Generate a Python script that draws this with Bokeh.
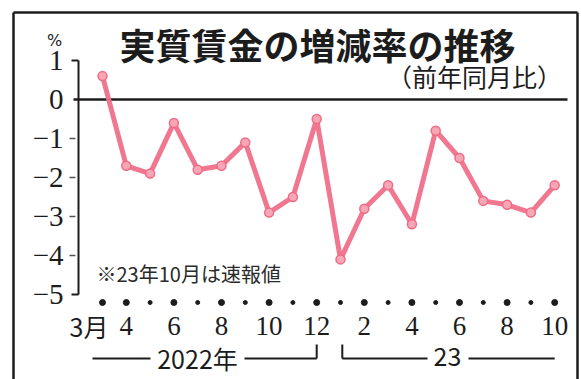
from bokeh.plotting import figure
from bokeh.models import Range1d, ColumnDataSource
from bokeh.core.properties import value
from bokeh.embed import file_html
from bokeh.resources import INLINE

# ---- data ----
months = ["2022-03", "2022-04", "2022-05", "2022-06", "2022-07", "2022-08", "2022-09",
          "2022-10", "2022-11", "2022-12", "2023-01", "2023-02", "2023-03", "2023-04",
          "2023-05", "2023-06", "2023-07", "2023-08", "2023-09", "2023-10"]
wage_change = [0.6, -1.7, -1.9, -0.6, -1.8, -1.7, -1.1, -2.9, -2.5, -0.5,
               -4.1, -2.8, -2.2, -3.2, -0.8, -1.5, -2.6, -2.7, -2.9, -2.2]
x_tick_labels = ["3月", "4", "", "6", "", "8", "", "10", "", "12",
                 "", "2", "", "4", "", "6", "", "8", "", "10"]
y_ticks = [1, 0, -1, -2, -3, -4, -5]
y_tick_labels = ["1", "0", "−1", "−2", "−3", "−4", "−5"]
title = "実質賃金の増減率の推移"
subtitle = "（前年同月比）"
unit_label = "%"
note = "※23年10月は速報値"
year_labels = ["2022年", "23"]

# ---- pixel geometry of the panel (canvas 581x379) ----
W, H = 581, 379
X0, DX = 102.0, 23.8     # pixel x of first month, pixels per month
Y0, DY = 99.0, 39.0      # pixel y of value 0, pixels per 1 %

def px(xp):
    return (xp - X0) / DX

def py(yp):
    return (Y0 - yp) / DY

xs = list(range(len(months)))

p = figure(width=W, height=H, output_backend="svg", toolbar_location=None,
           x_range=Range1d(px(0), px(W)), y_range=Range1d(py(H), py(0)),
           min_border=0, min_border_left=0, min_border_right=0,
           min_border_top=0, min_border_bottom=0)
p.axis.visible = False
p.grid.visible = False
p.outline_line_color = None
p.background_fill_color = "white"
p.border_fill_color = "white"

INK = "#1c1c1c"
NARROW = value("Liberation Sans Narrow")
CJK = value("Noto Sans CJK JP")

# outer frame
p.segment(x0=[px(13), px(13), px(577)], y0=[py(12), py(12), py(12)],
          x1=[px(577), px(13), px(577)], y1=[py(12), py(H + 5), py(H + 5)],
          line_color=INK, line_width=2.5)

# title / subtitle
p.text(x=[px(317)], y=[py(43)], text=[title], text_font=CJK, text_font_style="bold",
       text_font_size="36px", text_align="center", text_baseline="middle", text_color=INK)
p.text(x=[px(474)], y=[py(75)], text=[subtitle], text_font=CJK,
       text_font_size="25px", text_align="center", text_baseline="middle", text_color=INK)

# y axis bracket + ticks
yt_top, yt_bot = max(y_ticks), min(y_ticks)
p.segment(x0=[px(78)], y0=[yt_top], x1=[px(78)], y1=[yt_bot], line_color=INK, line_width=2)
p.segment(x0=[px(71), px(71)], y0=[yt_top, yt_bot], x1=[px(78), px(78)], y1=[yt_top, yt_bot],
          line_color=INK, line_width=2)
inner = [v for v in y_ticks if v not in (yt_top, yt_bot, 0)]
p.segment(x0=[px(69)] * len(inner), y0=inner, x1=[px(75)] * len(inner), y1=inner,
          line_color="#555555", line_width=1.5)
p.text(x=[px(63)] * len(y_ticks), y=y_ticks, text=y_tick_labels, text_font=NARROW,
       text_font_size="29px", text_align="right", text_baseline="middle", text_color=INK)
p.text(x=[px(54)], y=[py(40)], text=[unit_label], text_font=value("DejaVu Sans"),
       text_font_size="16px", text_align="center", text_baseline="middle", text_color=INK)

# zero line
p.segment(x0=[px(73)], y0=[0], x1=[px(567)], y1=[0], line_color=INK, line_width=2.5)

# note
p.text(x=[px(96)], y=[py(273)], text=[note], text_font=CJK, text_font_size="20px",
       text_align="left", text_baseline="middle", text_color="#2a2a2a")

# x tick dots
big = [i for i, t in enumerate(x_tick_labels) if t]
small = [i for i, t in enumerate(x_tick_labels) if not t]
p.scatter(x=big, y=[py(302)] * len(big), size=6, color=INK)
p.scatter(x=small, y=[py(302)] * len(small), size=4, color=INK)

# x tick labels
first = x_tick_labels[0]
p.text(x=[0 + px(108) - px(102)], y=[py(325)], text=[first], text_font=CJK,
       text_font_size="25px", text_align="right", text_baseline="middle", text_color=INK)
rest = [(i, t) for i, t in enumerate(x_tick_labels) if t and i > 0]
p.text(x=[i for i, _ in rest], y=[py(325)] * len(rest), text=[t for _, t in rest],
       text_font=NARROW, text_font_size="27px", text_align="center",
       text_baseline="middle", text_color=INK)

# year brackets
i_dec = months.index("2022-12")
i_jan = months.index("2023-01")
i_last = len(months) - 1
yb = py(358)
ytop = py(344)
p.segment(x0=[px(92), px(244), i_dec, i_jan + px(342) - px(340.2), px(468)],
          y0=[yb, yb, yb, yb, yb],
          x1=[px(150), i_dec, i_dec, px(427), i_last],
          y1=[yb, yb, ytop, yb, yb], line_color=INK, line_width=2)
p.segment(x0=[i_jan + px(342) - px(340.2)], y0=[yb], x1=[i_jan + px(342) - px(340.2)], y1=[ytop],
          line_color=INK, line_width=2)
p.text(x=[px(197), px(447)], y=[py(357), py(356)], text=year_labels, text_font=CJK,
       text_font_size="25px", text_align="center", text_baseline="middle", text_color=INK)

# data line
src = ColumnDataSource(dict(x=xs, y=wage_change, month=months))
p.line("x", "y", source=src, line_color="#f0708a", line_width=5, line_alpha=0.95,
       line_join="round")
p.scatter("x", "y", source=src, size=9, fill_color="#f7a6b6", line_color="#ee6c84",
          line_width=1.5)

open("out.html", "w").write(file_html(p, INLINE))
